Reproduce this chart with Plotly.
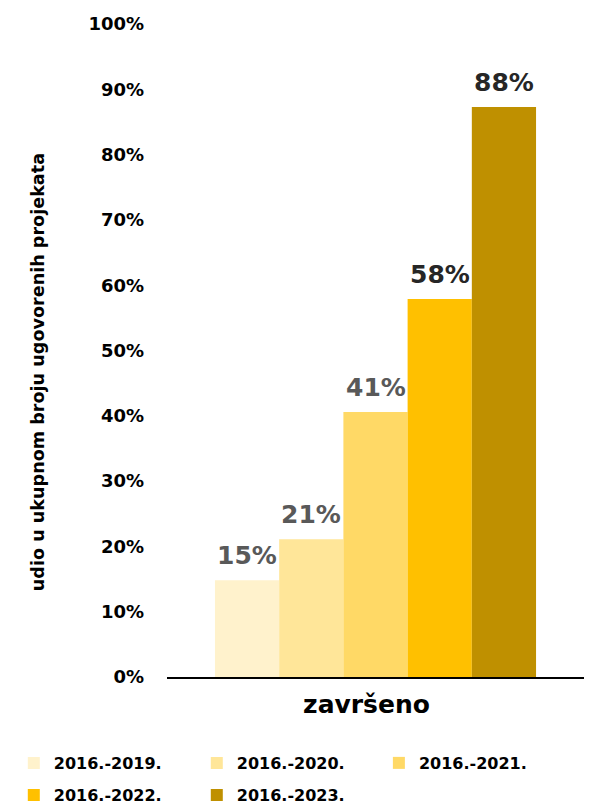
import plotly.graph_objects as go

categories = ["završeno"]
series_names = ["2016.-2019.", "2016.-2020.", "2016.-2021.", "2016.-2022.", "2016.-2023."]
series_values = [0.148, 0.211, 0.406, 0.579, 0.873]
value_labels = ["15%", "21%", "41%", "58%", "88%"]
series_colors = ["#FFF2CC", "#FFE699", "#FFD966", "#FFC000", "#BF9000"]
label_colors = ["#595959", "#595959", "#595959", "#262626", "#262626"]
y_ticks = [0, 0.1, 0.2, 0.3, 0.4, 0.5, 0.6, 0.7, 0.8, 0.9, 1.0]
y_title = "udio u ukupnom broju ugovorenih projekata"

FONT = "DejaVu Sans"
BARGAP = 0.23

# legend slot (column, row) for each series
legend_cols = [0, 1, 2, 0, 1]
legend_rows = [0, 0, 0, 1, 1]
col_x = [0.0095, 0.3095, 0.608]
row_y = [0.0633, 0.0236]

fig = go.Figure()
for i, (name, val, col) in enumerate(zip(series_names, series_values, series_colors)):
    fig.add_trace(go.Bar(
        name=name, x=categories, y=[val],
        marker=dict(color=col, line=dict(width=0)),
        legend="legend" if i == 0 else f"legend{i + 1}",
    ))

# value labels above each bar (group offsets computed from bargap)
n = len(series_values)
w = (1 - BARGAP) / n
for i, (val, txt, lc) in enumerate(zip(series_values, value_labels, label_colors)):
    fig.add_annotation(
        x=0 - (1 - BARGAP) / 2 + w * (i + 0.5), y=val, xref="x", yref="y",
        text=txt, showarrow=False, yanchor="bottom", yshift=8,
        font=dict(family=FONT, size=25, color=lc, weight="bold"),
    )

# y-axis title
fig.add_annotation(
    x=-0.309, y=0.467, xref="paper", yref="paper", text=y_title, textangle=-90,
    showarrow=False, xanchor="center", yanchor="middle",
    font=dict(family=FONT, size=17.6, color="#000000", weight="bold"),
)

legend_common = dict(orientation="h", xanchor="left", yanchor="middle",
                     xref="container", yref="container",
                     font=dict(family=FONT, size=16, color="#000000", weight="bold"),
                     itemwidth=30, tracegroupgap=0, bgcolor="rgba(0,0,0,0)")
legends = {}
for i in range(n):
    key = "legend" if i == 0 else f"legend{i + 1}"
    legends[key] = dict(x=col_x[legend_cols[i]], y=row_y[legend_rows[i]], **legend_common)

fig.update_layout(
    width=610, height=806,
    margin=dict(l=159, r=34, t=16, b=137),
    paper_bgcolor="white", plot_bgcolor="white",
    barmode="group", bargap=BARGAP, bargroupgap=0,
    font=dict(family=FONT, color="#000000"),
    showlegend=True,
    xaxis=dict(showline=True, linecolor="#000000", linewidth=1.5,
               tickfont=dict(family=FONT, size=25, color="#000000", weight="bold"),
               ticks="", showgrid=False, automargin=False,
               ticklabelshift=-9, ticklabelstandoff=4),
    yaxis=dict(range=[0, 1], tickvals=y_ticks, tickformat=".0%",
               showgrid=False, zeroline=False, showline=False,
               ticklabelstandoff=22, automargin=False,
               tickfont=dict(family=FONT, size=18, color="#000000", weight="bold")),
    **legends,
)

fig.write_html("out.html")
